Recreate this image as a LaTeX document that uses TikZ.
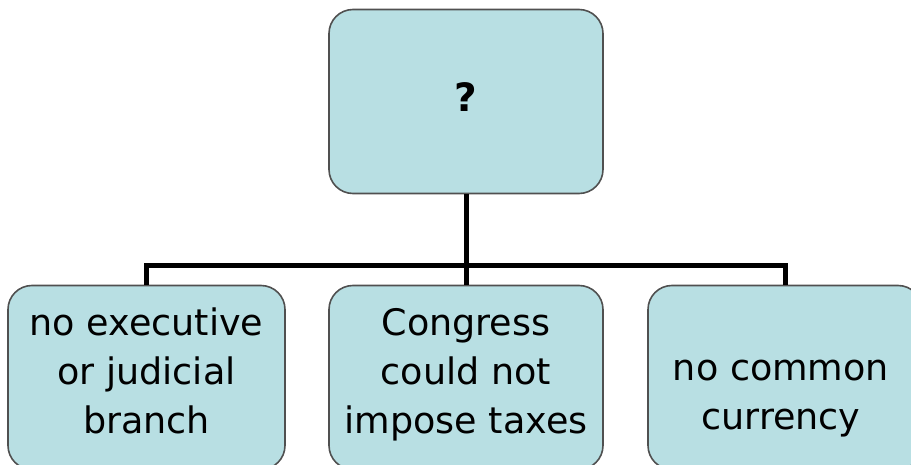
\documentclass[tikz,border=0pt]{standalone}
\usepackage{fontspec}
\setmainfont{DejaVu Sans}
\definecolor{boxfill}{HTML}{B8DFE3}
\definecolor{boxline}{HTML}{505050}
\begin{document}
\begin{tikzpicture}[x=1pt,y=-1pt,
  box/.style={draw=boxline, line width=1.6pt, fill=boxfill, rounded corners=24pt,
    minimum width=274pt, minimum height=184pt, inner sep=0pt},
  label/.style={inner sep=0pt, align=center, font=\fontsize{36.5}{49}\selectfont},
  link/.style={line width=5pt, black}]
\useasboundingbox (0,0) rectangle (911,465);
\clip (0,0) rectangle (911,465);
\node[box] (top) at (466,101.5) {};
\node[box, minimum width=277pt] (left) at (146.5,377.5) {};
\node[box] (mid) at (466,377.5) {};
\node[box] (right) at (785,377.5) {};
\node[inner sep=0pt, font=\fontsize{39}{46}\selectfont\bfseries] (q) at (466,97.5) {?};
\node[label] (lt) at (146.5,375) {\strut no executive\\\strut or judicial\\\strut branch};
\node[label] (mt) at (466,375) {\strut Congress\\\strut could not\\\strut impose taxes};
\node[label] (rt) at (781,395) {\strut no common\\\strut currency};
\coordinate (bus) at (466,266);
\draw[link] (top.south) -- (bus);
\draw[link] (left.north) |- (bus) -| (right.north);
\draw[link] (bus) -- (mid.north);
\end{tikzpicture}
\end{document}
